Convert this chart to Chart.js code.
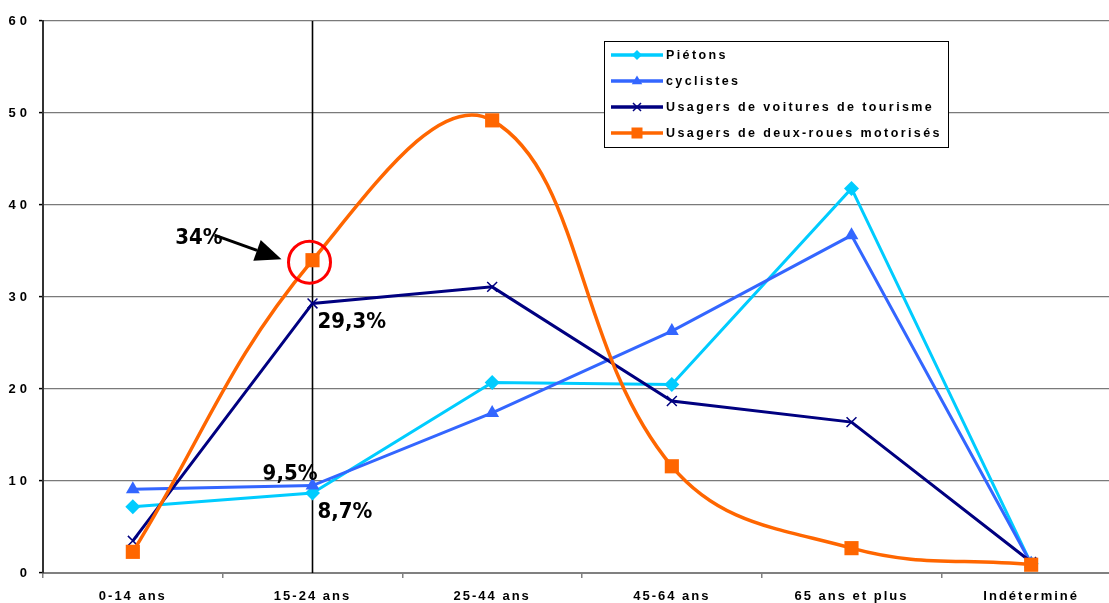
<!DOCTYPE html>
<html>
<head>
<meta charset="utf-8">
<script src="https://cdn.jsdelivr.net/npm/chart.js@4/dist/chart.umd.min.js"></script>
<style>
  html, body { margin: 0; padding: 0; background: #fff; width: 1109px; height: 603px; overflow: hidden; }
  canvas { display: block; }
</style>
</head>
<body>
<canvas id="c" width="1131" height="603"></canvas>
<script>
// Tranches d'âge et parts (%) par catégorie d'usagers
const categories = ['0-14 ans', '15-24 ans', '25-44 ans', '45-64 ans', '65 ans et plus', 'Indéterminé'];
const pietons    = [7.2, 8.7, 20.7, 20.5, 41.8, 1.0];
const cyclistes  = [9.1, 9.5, 17.4, 26.3, 36.7, 1.0];
const voitures   = [3.5, 29.3, 31.1, 18.7, 16.4, 1.2];
const deuxRoues  = [2.3, 34, 49.2, 11.6, 2.7, 0.9];
const yTicks     = [0, 10, 20, 30, 40, 50, 60];
const seriesNames = ['Piétons', 'cyclistes', 'Usagers de voitures de tourisme', 'Usagers de deux-roues motorisés'];

// Tranche mise en évidence
const FOCUS = 1;

const BASE_FONT = "'Liberation Sans', Arial, sans-serif";
const NOTE_FONT = "bold 22px 'DejaVu Sans Condensed', 'DejaVu Sans', sans-serif";

function pct(v) { return String(v).replace('.', ',') + '%'; }

// Draw a scale's labels with extra letter spacing
function spacedLabels(spacing) {
  return function (scale) {
    if (scale._spaced) return;
    const draw = scale.drawLabels.bind(scale);
    scale.drawLabels = function (area) {
      const c = this.ctx;
      const prev = c.letterSpacing;
      c.letterSpacing = spacing;
      draw(area);
      c.letterSpacing = prev;
    };
    scale._spaced = true;
  };
}

function marker(ctx, style, x, y, color) {
  ctx.save();
  ctx.fillStyle = color;
  ctx.strokeStyle = color;
  ctx.beginPath();
  if (style === 'rectRot') {
    const r = 5;
    ctx.moveTo(x, y - r); ctx.lineTo(x + r, y); ctx.lineTo(x, y + r); ctx.lineTo(x - r, y);
    ctx.closePath(); ctx.fill();
  } else if (style === 'triangle') {
    const r = 5.5;
    ctx.moveTo(x, y - r); ctx.lineTo(x + r * 0.95, y + r * 0.6); ctx.lineTo(x - r * 0.95, y + r * 0.6);
    ctx.closePath(); ctx.fill();
  } else if (style === 'crossRot') {
    const r = 4;
    ctx.lineWidth = 1.5;
    ctx.moveTo(x - r, y - r); ctx.lineTo(x + r, y + r);
    ctx.moveTo(x + r, y - r); ctx.lineTo(x - r, y + r);
    ctx.stroke();
  } else {
    const r = 5.5;
    ctx.fillRect(x - r, y - r, 2 * r, 2 * r);
  }
  ctx.restore();
}

const notes = {
  id: 'notes',
  beforeDatasetsDraw(chart) {
    const { ctx, chartArea, scales: { x } } = chart;
    const px = x.getPixelForValue(FOCUS);
    ctx.save();
    ctx.strokeStyle = '#000';
    ctx.lineWidth = 1.6;
    ctx.beginPath();
    ctx.moveTo(px, chartArea.top);
    ctx.lineTo(px, chartArea.bottom);
    ctx.stroke();
    ctx.restore();
  },
  afterDatasetsDraw(chart) {
    const { ctx, scales: { x, y } } = chart;
    const px = x.getPixelForValue(FOCUS);
    const yMoto = y.getPixelForValue(deuxRoues[FOCUS]);
    const yCar = y.getPixelForValue(voitures[FOCUS]);
    const yBike = y.getPixelForValue(cyclistes[FOCUS]);
    const yPed = y.getPixelForValue(pietons[FOCUS]);

    ctx.save();
    // cercle rouge
    ctx.strokeStyle = '#ff0000';
    ctx.lineWidth = 3;
    ctx.beginPath();
    ctx.arc(px - 3, yMoto + 2, 21, 0, Math.PI * 2);
    ctx.stroke();

    // flèche
    const tx = px - 98, ty = yMoto - 25;
    const hx = px - 31, hy = yMoto - 1;
    const ang = Math.atan2(hy - ty, hx - tx);
    const hl = 26, hw = 11;
    const bx = hx - hl * Math.cos(ang), by = hy - hl * Math.sin(ang);
    ctx.strokeStyle = '#000';
    ctx.fillStyle = '#000';
    ctx.lineWidth = 3;
    ctx.beginPath();
    ctx.moveTo(tx, ty);
    ctx.lineTo(bx, by);
    ctx.stroke();
    ctx.beginPath();
    ctx.moveTo(hx, hy);
    ctx.lineTo(bx + hw * Math.sin(ang), by - hw * Math.cos(ang));
    ctx.lineTo(bx - hw * Math.sin(ang), by + hw * Math.cos(ang));
    ctx.closePath();
    ctx.fill();

    // valeurs
    ctx.font = NOTE_FONT;
    ctx.fillStyle = '#000';
    ctx.textBaseline = 'alphabetic';
    ctx.textAlign = 'right';
    ctx.fillText(pct(deuxRoues[FOCUS]), px - 90, yMoto - 16);
    ctx.fillText(pct(cyclistes[FOCUS]), px + 5, yBike - 6);
    ctx.textAlign = 'left';
    ctx.fillText(pct(voitures[FOCUS]), px + 5, yCar + 25);
    ctx.fillText(pct(pietons[FOCUS]), px + 5, yPed + 25);
    ctx.restore();
  },
  afterDraw(chart) {
    const { ctx } = chart;
    const left = 604, top = 41, right = 948, bottom = 147;
    ctx.save();
    ctx.fillStyle = '#fff';
    ctx.fillRect(left, top, right - left, bottom - top);
    ctx.strokeStyle = '#000';
    ctx.lineWidth = 1;
    ctx.strokeRect(left + 0.5, top + 0.5, right - left, bottom - top);
    ctx.font = 'bold 12.5px ' + BASE_FONT;
    ctx.letterSpacing = '2.4px';
    ctx.textBaseline = 'middle';
    ctx.textAlign = 'left';
    chart.data.datasets.forEach((ds, i) => {
      const yy = 55 + i * 26;
      ctx.strokeStyle = ds.borderColor;
      ctx.lineWidth = 3.5;
      ctx.beginPath();
      ctx.moveTo(611, yy);
      ctx.lineTo(663, yy);
      ctx.stroke();
      marker(ctx, ds.pointStyle, 637, yy, ds.borderColor);
      ctx.fillStyle = '#000';
      ctx.fillText(ds.label, 666, yy + 1);
    });
    ctx.restore();
  }
};

Chart.defaults.font.family = BASE_FONT;

new Chart(document.getElementById('c'), {
  type: 'line',
  data: {
    labels: categories,
    datasets: [
      {
        label: seriesNames[0], data: pietons, order: 3,
        borderColor: '#00ccff', backgroundColor: '#00ccff', borderWidth: 3,
        pointStyle: 'rectRot', pointRadius: 7.5, pointBorderWidth: 0, tension: 0
      },
      {
        label: seriesNames[1], data: cyclistes, order: 2,
        borderColor: '#3366ff', backgroundColor: '#3366ff', borderWidth: 3,
        pointStyle: 'triangle', pointRadius: 8, pointBorderWidth: 0, tension: 0
      },
      {
        label: seriesNames[2], data: voitures, order: 1,
        borderColor: '#000080', backgroundColor: '#000080', borderWidth: 3,
        pointStyle: 'crossRot', pointRadius: 7, pointBorderWidth: 1.5, tension: 0
      },
      {
        label: seriesNames[3], data: deuxRoues, order: 0,
        borderColor: '#ff6600', backgroundColor: '#ff6600', borderWidth: 3.5,
        pointStyle: 'rect', pointRadius: 10, pointBorderWidth: 0, tension: 0.4
      }
    ]
  },
  options: {
    responsive: false,
    animation: false,
    devicePixelRatio: 1,
    layout: { padding: { top: 21, right: 0, left: 0, bottom: 0 } },
    plugins: { legend: { display: false }, tooltip: { enabled: false } },
    scales: {
      x: {
        offset: true,
        grid: { offset: true, drawOnChartArea: false, tickLength: 5, color: '#808080', lineWidth: 1.5 },
        border: { color: '#808080', width: 2 },
        ticks: { color: '#000', font: { size: 13, weight: 'bold' }, padding: 11, maxRotation: 0, autoSkip: false },
        afterFit: s => { s.height = 30; },
        afterUpdate: spacedLabels('2px')
      },
      y: {
        min: 0, max: 60,
        afterBuildTicks: s => { s.ticks = yTicks.map(v => ({ value: v })); },
        grid: { color: '#7a7a7a', lineWidth: 1.2, tickLength: 4, tickColor: '#000', tickWidth: 1.5 },
        border: { color: '#333', width: 2 },
        ticks: { color: '#000', font: { size: 13, weight: 'bold' }, padding: 8 },
        afterFit: s => { s.width = 43; },
        afterUpdate: spacedLabels('4px')
      }
    }
  },
  plugins: [notes]
});
</script>
</body>
</html>
